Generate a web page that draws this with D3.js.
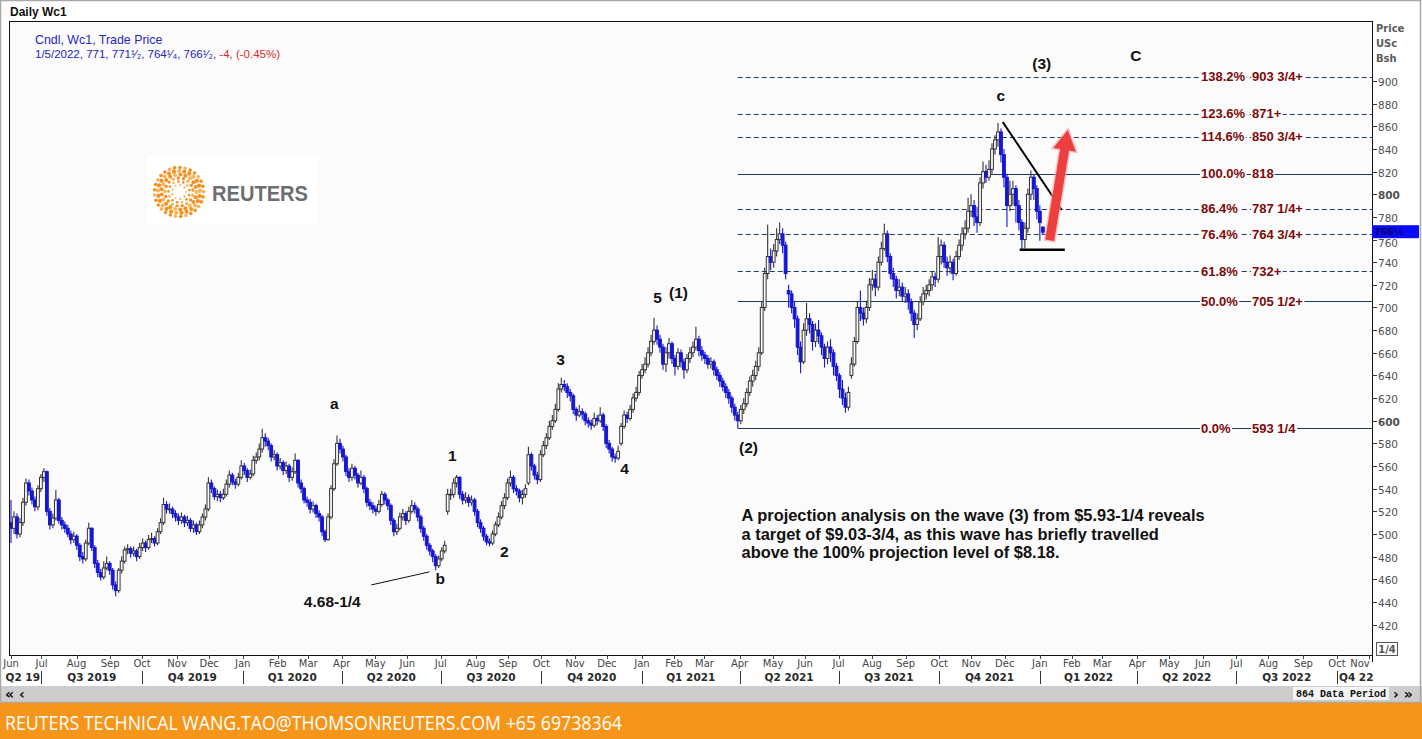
<!DOCTYPE html>
<html><head><meta charset="utf-8">
<script src="https://cdn.jsdelivr.net/npm/d3@7"></script>
<style>
html,body{margin:0;padding:0;background:#fff;}
svg{display:block;}
</style></head>
<body>
<svg id="c" width="1422" height="739"></svg>
<script>
// ---------------- DATA ----------------
// Candles: roughly every 2 trading days from 3 Jun 2019 to 5 Jan 2022 (USc/bushel)
const opens = [510,505,515,500,510,528,545,538,530,524,
540,550,555,520,508,514,530,512,508,505,
500,495,498,490,480,478,492,505,488,474,
466,462,470,474,468,455,450,468,476,486,
487,483,485,480,488,492,488,495,496,492,
502,510,526,522,522,518,515,512,515,510,
512,505,508,502,508,515,522,545,540,533,
535,532,535,544,552,546,544,550,560,556,
550,553,565,568,575,585,582,578,568,570,
560,563,556,560,550,555,565,545,540,530,
528,522,525,518,515,502,495,515,540,562,
580,575,568,555,550,558,552,545,550,540,
528,525,522,520,526,535,530,525,512,502,
505,515,518,512,520,525,522,515,505,498,
490,485,480,472,478,485,520,535,535,545,
550,535,530,532,528,530,520,510,505,498,
493,492,500,508,515,525,532,545,550,540,
538,532,535,545,570,560,552,548,570,578,
585,595,600,610,628,632,630,625,622,610,
605,608,606,600,598,596,602,600,605,595,
580,575,568,567,580,595,605,602,610,620,
625,640,645,650,660,670,680,672,665,650,
660,668,655,648,660,652,645,655,660,665,
672,662,658,655,650,652,645,640,635,630,
625,620,612,605,600,610,615,625,635,640,
648,660,700,730,745,740,750,760,765,755,
715,712,700,690,665,652,680,690,685,670,
680,675,665,655,665,660,648,640,628,620,
612,640,650,670,700,695,690,700,720,725,
718,740,752,765,745,730,725,715,718,710,
712,705,695,685,690,705,712,715,720,727,
725,745,755,740,735,740,730,745,755,765,
770,785,790,780,775,810,820,815,822,840,
848,855,835,815,790,800,805,790,775,760,
770,800,815,805,785,771];
const highs = [530,520,518,514,532,549,548,541,533,543,
553,558,556,523,518,539,532,515,511,508,
503,502,500,492,484,495,510,506,490,477,
469,476,480,476,470,458,470,480,489,491,
489,489,487,492,496,494,499,501,498,505,
514,532,529,527,524,521,518,519,517,516,
514,512,510,512,518,526,550,548,542,539,
538,540,548,556,554,549,554,565,563,558,
557,569,572,580,593,589,585,580,574,572,
567,565,564,562,559,571,566,548,542,533,
531,529,527,521,517,504,518,543,566,587,
584,578,570,558,562,560,554,556,552,542,
531,528,525,530,538,537,532,527,514,509,
519,522,520,524,530,528,524,517,507,500,
492,487,482,481,488,494,540,540,549,552,
551,538,537,535,534,532,522,513,507,500,
496,503,511,519,529,536,549,556,552,543,
540,539,544,577,572,562,555,574,582,589,
600,605,615,633,638,636,633,628,624,612,
614,611,608,603,601,607,605,612,607,597,
583,577,571,578,598,609,608,614,624,630,
644,650,656,665,676,691,684,676,668,665,
673,670,658,664,663,655,659,665,670,683,
675,666,661,658,656,654,648,643,638,633,
628,622,615,608,614,620,629,639,645,653,
665,705,735,773,752,756,770,775,770,758,
720,715,705,693,670,686,704,695,688,686,
689,678,668,670,672,663,651,642,636,625,
630,656,674,705,715,700,706,726,733,730,
745,758,774,768,748,735,728,725,722,718,
716,708,698,695,710,718,720,725,732,731,
762,760,758,745,746,743,750,760,771,777,
797,800,795,789,815,829,826,830,845,852,
863,858,840,818,812,812,808,795,778,775,
805,821,818,808,790,771.5];
const lows = [492,500,496,497,507,525,534,526,520,521,
537,546,516,504,505,512,509,504,501,497,
491,492,486,476,474,476,490,485,470,462,
459,460,468,464,451,445,448,465,474,482,
479,480,476,478,485,484,486,492,489,490,
500,508,518,518,514,511,508,509,506,507,
502,501,499,500,505,512,520,536,530,529,
528,530,533,541,543,540,542,548,552,546,
548,551,562,565,572,577,574,564,565,556,
557,552,553,546,547,553,541,536,527,524,
518,519,514,511,498,493,494,513,538,560,
571,564,551,546,547,548,541,543,536,524,
521,518,516,518,524,526,521,508,498,499,
503,512,508,510,518,518,511,501,494,486,
481,475,468,470,476,483,517,530,532,541,
531,526,527,524,525,516,506,501,494,490,
489,490,498,506,513,522,530,542,536,534,
528,526,532,543,556,548,544,546,568,575,
583,592,598,608,625,626,620,617,606,600,
603,601,596,594,592,594,596,598,591,576,
571,564,563,565,578,593,598,600,607,617,
622,637,642,647,657,667,667,660,645,643,
655,650,640,645,647,637,642,651,656,662,
657,653,650,646,646,640,636,630,626,620,
615,607,600,593.25,597,606,612,622,630,636,
644,658,697,725,733,735,745,756,748,725,
700,695,682,658,642,650,675,677,662,665,
668,658,647,650,652,640,635,620,614,607,
609,637,648,668,688,684,686,697,715,710,
715,737,750,740,725,718,708,710,705,704,
698,688,673,680,688,702,707,710,715,718,
722,738,735,728,730,724,728,742,750,760,
766,780,772,766,772,805,810,812,818,835,
842,828,806,771,785,790,775,768,751,752,
766,795,795,778,759,764.25];
const closes = [505,515,500,510,528,545,538,530,524,540,
550,555,520,508,514,530,512,508,505,500,
495,498,490,480,478,492,505,488,474,466,
462,470,474,468,455,450,468,476,486,487,
483,485,480,488,492,488,495,496,492,502,
510,526,522,522,518,515,512,515,510,512,
505,508,502,508,515,522,545,540,533,535,
532,535,544,552,546,544,550,560,556,550,
553,565,568,575,585,582,578,568,570,560,
563,556,560,550,555,565,545,540,530,528,
522,525,518,515,502,495,515,540,562,580,
575,568,555,550,558,552,545,550,540,528,
525,522,520,526,535,530,525,512,502,505,
515,518,512,520,525,522,515,505,498,490,
485,480,472,478,485,490,535,535,545,550,
535,530,532,528,530,520,510,505,498,493,
492,500,508,515,525,532,545,550,540,538,
532,535,540,570,560,552,548,570,578,585,
595,600,610,628,632,630,625,622,610,605,
608,606,600,598,596,602,600,605,595,580,
575,568,567,573,595,605,602,610,620,625,
640,645,650,660,670,680,672,665,650,660,
668,655,648,660,652,645,655,660,665,672,
662,658,655,650,652,645,640,635,630,625,
620,612,605,600,610,615,625,635,640,648,
660,700,730,745,740,750,760,765,755,730,
712,700,690,665,652,680,690,685,670,680,
675,665,655,665,660,648,640,628,620,612,
625,650,670,700,695,690,700,720,725,718,
740,752,765,745,730,725,715,718,710,712,
705,695,685,690,705,712,715,720,727,725,
745,755,740,735,740,730,745,755,765,770,
785,790,780,775,810,820,815,822,840,848,
855,835,815,790,800,805,790,775,760,770,
800,815,805,785,775,766.5];

const firstDate = [2019, 5, 3];   // 3 Jun 2019
const lastDate  = [2022, 0, 5];   // 5 Jan 2022
const axisEnd   = [2022, 10, 1];  // 1 Nov 2022

const priceTicks = [420,440,460,480,500,520,540,560,580,600,620,640,660,680,700,720,740,760,780,800,820,840,860,880,900];
const boldTicks = [600, 800];
const monthNames = ['Jan','Feb','Mar','Apr','May','Jun','Jul','Aug','Sep','Oct','Nov','Dec'];
const quarterLabels = ['Q2 19','Q3 2019','Q4 2019','Q1 2020','Q2 2020','Q3 2020','Q4 2020','Q1 2021','Q2 2021','Q3 2021','Q4 2021','Q1 2022','Q2 2022','Q3 2022','Q4 22'];

const fibPct   = ['138.2%','123.6%','114.6%','100.0%','86.4%','76.4%','61.8%','50.0%','0.0%'];
const fibPrice = [903.75, 871, 850.75, 818, 787.25, 764.75, 732, 705.5, 593.25];
const fibText  = ['903 3/4+','871+','850 3/4+','818','787 1/4+','764 3/4+','732+','705 1/2+','593 1/4'];
const fibSolid = [false,false,false,true,false,false,false,true,true];

// wave labels: text, trading-day position, price position
const waveText  = ['a','b','1','2','3','4','5','(1)','(2)','c','(3)','C','4.68-1/4'];
const waveT     = [212.1,281.7,289.6,323.7,360.5,402.5,424.2,438.0,483.9,649.4,676.3,738.0,210.8];
const waveP     = [615.6,461.1,569.7,484.9,654.5,558.2,708.4,712.8,576.8,886.8,915.9,922.1,440.8];

const lastPrice = 766.5;
const noteLines = ['A projection analysis on the wave (3) from $5.93-1/4 reveals',
                   'a target of $9.03-3/4, as this wave has briefly travelled',
                   'above the 100% projection level of $8.18.'];

// ---------------- SCALES ----------------
const T0 = Date.UTC(firstDate[0], firstDate[1], firstDate[2]);
function wd(y, m, d) {
  const end = Date.UTC(y, m, d); let n = 0;
  for (let t = T0; t < end; t += 864e5) { const g = new Date(t).getUTCDay(); if (g > 0 && g < 6) n++; }
  return n;
}
const tLast = wd(...lastDate);
const tEnd = wd(...axisEnd);

const P = {l: 9, t: 21, r: 1372, b: 655};
const x = d3.scaleLinear().domain([0, tEnd]).range([11, 1369]);
const y = d3.scaleLinear().domain([394, 953]).range([654, 21]);

const svg = d3.select('#c');
const W = 1422, H = 739;
const BLUE = '#1616d4', UPC = '#333333', PBG = '#fbfbfb';
const SANS = "'Liberation Sans', Arial, sans-serif";
const UI = "'DejaVu Sans', Tahoma, sans-serif";

svg.append('rect').attr('width', W).attr('height', H).attr('fill', '#ffffff');
svg.append('rect').attr('x', P.l).attr('y', P.t).attr('width', P.r - P.l).attr('height', P.b - P.t).attr('fill', PBG);

// title + legend
svg.append('text').attr('x', 10).attr('y', 16).attr('font-family', SANS).attr('font-weight', 'bold')
  .attr('font-size', 12).attr('fill', '#111').text('Daily Wc1');
svg.append('text').attr('x', 35).attr('y', 44).attr('font-family', SANS).attr('font-size', 12.4)
  .attr('fill', '#2626c0').text('Cndl, Wc1, Trade Price');
const lg2 = svg.append('text').attr('x', 35).attr('y', 58).attr('font-family', SANS).attr('font-size', 11.5);
lg2.append('tspan').attr('fill', '#2626c0').text('1/5/2022, 771, 771\u00B9\u2044\u2082, 764\u00B9\u2044\u2084, 766\u00B9\u2044\u2082, ');
lg2.append('tspan').attr('fill', '#e02828').text('-4, (-0.45%)');

// Reuters logo
const logo = svg.append('g');
logo.append('rect').attr('x', 147).attr('y', 156).attr('width', 172).attr('height', 68).attr('fill', '#ffffff');
const rings = [{r: 7, n: 9, s: 0.9}, {r: 10.5, n: 13, s: 1.3}, {r: 14, n: 17, s: 1.7}, {r: 17.5, n: 21, s: 2.0}, {r: 21, n: 25, s: 2.1}, {r: 24.5, n: 29, s: 1.8}];
rings.forEach((rg, ri) => {
  for (let i = 0; i < rg.n; i++) {
    const a = (i / rg.n) * Math.PI * 2 + ri * 0.3;
    logo.append('circle').attr('cx', 179 + rg.r * Math.cos(a)).attr('cy', 192 + rg.r * Math.sin(a))
      .attr('r', rg.s).attr('fill', (i + ri) % 3 === 0 ? '#fbb25a' : '#f5901e');
  }
});
logo.append('text').attr('x', 212).attr('y', 201).attr('font-family', SANS).attr('font-weight', 'bold')
  .attr('font-size', 22).attr('fill', '#6e6e70').attr('textLength', 96).attr('lengthAdjust', 'spacingAndGlyphs').text('REUTERS');

// ---------------- FIB LINES ----------------
const fibStartT = 243 * tLast / (closes.length - 1);
const fg = svg.append('g');
fibPrice.forEach((v, i) => {
  fg.append('line').attr('x1', x(fibStartT)).attr('x2', P.r).attr('y1', Math.round(y(v)) + 0.5).attr('y2', Math.round(y(v)) + 0.5)
    .attr('stroke', '#1f3a6a').attr('stroke-width', 1).attr('stroke-dasharray', fibSolid[i] ? null : '5,3');
});

// ---------------- CANDLES ----------------
const candles = closes.map((c, k) => ({t: k * tLast / (closes.length - 1), o: opens[k], h: highs[k], l: lows[k], c}));
const bw = 2.8;
const cg = svg.append('g').selectAll('g').data(candles).join('g');
cg.append('line')
  .attr('x1', d => x(d.t)).attr('x2', d => x(d.t))
  .attr('y1', d => y(Math.max(d.h, d.o, d.c))).attr('y2', d => y(Math.min(d.l, d.o, d.c)))
  .attr('stroke', d => d.c < d.o ? BLUE : UPC).attr('stroke-width', 1.1);
cg.append('rect')
  .attr('x', d => x(d.t) - bw / 2).attr('width', bw)
  .attr('y', d => y(Math.max(d.o, d.c))).attr('height', d => Math.max(0.8, Math.abs(y(d.o) - y(d.c))))
  .attr('fill', d => d.c < d.o ? BLUE : PBG).attr('stroke', d => d.c < d.o ? BLUE : UPC).attr('stroke-width', 1);

// fib labels (with background so the line does not cross the text)
const lab = svg.append('g').attr('font-family', SANS).attr('font-weight', 'bold').attr('font-size', 13).attr('fill', '#7d0a0a');
function bgText(g, tx, ty, str) {
  const t = g.append('text').attr('x', tx).attr('y', ty).attr('dominant-baseline', 'central').text(str);
  const b = t.node().getBBox();
  g.insert('rect', () => t.node()).attr('x', b.x - 1).attr('y', b.y + 1).attr('width', b.width + 2).attr('height', b.height - 2).attr('fill', PBG);
}
fibPrice.forEach((v, i) => {
  bgText(lab, 1201, y(v), fibPct[i]);
  bgText(lab, 1252, y(v), fibText[i]);
});

// ---------------- ANNOTATIONS ----------------
const ann = svg.append('g');
// 4.68 pointer line
ann.append('line').attr('x1', x(236.4)).attr('y1', y(455.0)).attr('x2', x(274.5)).attr('y2', y(466.5)).attr('stroke', '#111').attr('stroke-width', 1);
// triangle: falling resistance + support
ann.append('line').attr('x1', x(650.7)).attr('y1', y(863.8)).attr('x2', x(689.4)).attr('y2', y(786.1)).attr('stroke', '#000').attr('stroke-width', 2);
ann.append('line').attr('x1', x(661.8)).attr('y1', y(751)).attr('x2', x(691.4)).attr('y2', y(751)).attr('stroke', '#000').attr('stroke-width', 2.5);
// red arrow
(function () {
  const sx = x(681.5), sy = y(759.4), ex = x(693.4), ey = y(856.7);
  const dx = ex - sx, dy = ey - sy, L = Math.hypot(dx, dy), ux = dx / L, uy = dy / L, nx = -uy, ny = ux;
  const sw = 4.5, hw = 11.5, hl = 20;
  const bx = ex - ux * hl, by = ey - uy * hl;
  const pts = [[sx + nx * sw, sy + ny * sw], [bx + nx * sw, by + ny * sw], [bx + nx * hw, by + ny * hw], [ex, ey],
    [bx - nx * hw, by - ny * hw], [bx - nx * sw, by - ny * sw], [sx - nx * sw, sy - ny * sw]];
  ann.append('polygon').attr('points', pts.map(p => p.join(',')).join(' ')).attr('fill', '#f6a0a0').attr('stroke', '#f6a0a0').attr('stroke-width', 3).attr('opacity', 0.6);
  ann.append('polygon').attr('points', pts.map(p => p.join(',')).join(' ')).attr('fill', '#ee3f3f');
})();
// wave labels
waveText.forEach((s, i) => {
  ann.append('text').attr('x', x(waveT[i])).attr('y', y(waveP[i])).attr('text-anchor', 'middle').attr('dominant-baseline', 'central')
    .attr('font-family', SANS).attr('font-weight', 'bold').attr('font-size', 15.5).attr('fill', '#111').text(s);
});
// note
noteLines.forEach((s, i) => {
  ann.append('text').attr('x', x(479.3)).attr('y', y(516.7) + i * 18.5).attr('dominant-baseline', 'central')
    .attr('font-family', SANS).attr('font-weight', 'bold').attr('font-size', 16.4).attr('fill', '#111').text(s);
});

// ---------------- FRAME & RIGHT AXIS ----------------
svg.append('rect').attr('x', P.l + 0.5).attr('y', P.t + 0.5).attr('width', P.r - P.l).attr('height', P.b - P.t).attr('fill', 'none').attr('stroke', '#111').attr('stroke-width', 1);
const ax = svg.append('g').attr('font-family', UI).attr('font-size', 10.5).attr('fill', '#505050');
priceTicks.forEach(v => {
  const yy = Math.round(y(v)) + 0.5;
  ax.append('line').attr('x1', P.r).attr('x2', P.r + 5).attr('y1', yy).attr('y2', yy).attr('stroke', '#333');
  ax.append('text').attr('x', P.r + 6).attr('y', yy + (Math.abs(v - lastPrice) < 10 ? 2 : 0)).attr('dominant-baseline', 'central')
    .attr('font-weight', boldTicks.includes(v) ? 'bold' : 'normal').text(v);
});
['Price', 'USc', 'Bsh'].forEach((s, i) => {
  ax.append('text').attr('x', 1376).attr('y', 32 + i * 15).attr('font-weight', 'bold').attr('font-size', 10).attr('fill', '#5a5a5a').text(s);
});
// last price marker
ax.append('rect').attr('x', P.r).attr('y', y(lastPrice) - 7).attr('width', 47).attr('height', 13).attr('fill', '#0a0aff');
ax.append('text').attr('x', P.r + 2).attr('y', y(lastPrice) - 1).attr('dominant-baseline', 'central').attr('font-weight', 'bold')
  .attr('font-size', 9.5).attr('fill', '#00005a').text('766\u00BD');
// 1/4 box
ax.append('rect').attr('x', 1376.5).attr('y', 642.5).attr('width', 21).attr('height', 13).attr('fill', '#fff').attr('stroke', '#555');
ax.append('text').attr('x', 1387).attr('y', 649.5).attr('text-anchor', 'middle').attr('dominant-baseline', 'central').attr('font-weight', 'bold')
  .attr('font-size', 10).attr('fill', '#555').text('1/4');
svg.append('line').attr('x1', P.r + 0.5).attr('x2', P.r + 0.5).attr('y1', P.b).attr('y2', 662).attr('stroke', '#111');

// ---------------- BOTTOM AXIS ----------------
const months = [];
for (let yy = firstDate[0], m = firstDate[1]; yy < axisEnd[0] || (yy === axisEnd[0] && m <= axisEnd[1]);) {
  months.push({y: yy, m, t: wd(yy, m, 1)});
  m++; if (m > 11) { m = 0; yy++; }
}
const bx = svg.append('g').attr('font-family', UI).attr('font-size', 10).attr('fill', '#444');
months.forEach(mo => {
  const xx = Math.round(x(mo.t)) + 0.5;
  bx.append('line').attr('x1', xx).attr('x2', xx).attr('y1', P.b).attr('y2', P.b + 4).attr('stroke', '#444');
  bx.append('text').attr('x', Math.min(x(mo.t), 1360)).attr('y', 667).attr('text-anchor', 'middle').text(monthNames[mo.m]);
});
const seps = months.filter(mo => mo.m % 3 === 0).map(mo => x(mo.t));
const qg = svg.append('g').attr('font-family', UI).attr('font-size', 10.5).attr('font-weight', 'bold').attr('fill', '#2a2a2a');
seps.forEach(sx => qg.append('line').attr('x1', Math.round(sx) + 0.5).attr('x2', Math.round(sx) + 0.5).attr('y1', 671).attr('y2', 684).attr('stroke', '#333'));
quarterLabels.forEach((s, i) => {
  if (i === 0) qg.append('text').attr('x', seps[0] - 1.5).attr('y', 681).attr('text-anchor', 'end').text(s);
  else if (i === quarterLabels.length - 1) qg.append('text').attr('x', seps[i - 1] + 2).attr('y', 681).text(s);
  else qg.append('text').attr('x', (seps[i - 1] + seps[i]) / 2).attr('y', 681).attr('text-anchor', 'middle').text(s);
});

// scroll band
svg.append('rect').attr('x', 0).attr('y', 686).attr('width', W).attr('height', 17).attr('fill', '#cdcdcd');
svg.append('text').attr('x', 5).attr('y', 699).attr('font-family', UI).attr('font-weight', 'bold').attr('font-size', 14).attr('fill', '#111').text('\u00AB \u2039');
svg.append('rect').attr('x', 1293).attr('y', 687).attr('width', 96).attr('height', 13).attr('fill', '#f4f4f4');
svg.append('text').attr('x', 1296).attr('y', 697).attr('font-family', "'Liberation Mono', 'DejaVu Sans Mono', monospace").attr('font-weight', 'bold')
  .attr('font-size', 10).attr('fill', '#111').text('864 Data Period');
svg.append('text').attr('x', 1393).attr('y', 699).attr('font-family', UI).attr('font-weight', 'bold').attr('font-size', 14).attr('fill', '#111').text('\u203A \u00BB');

// outer frame
svg.append('rect').attr('x', 0.5).attr('y', 0.5).attr('width', W - 2).attr('height', 702).attr('fill', 'none').attr('stroke', '#a8a8a8').attr('stroke-width', 1.5);

// footer
svg.append('rect').attr('x', 0).attr('y', 703).attr('width', W).attr('height', 36).attr('fill', '#f5961b');
svg.append('text').attr('x', 5).attr('y', 730).attr('font-family', "'Liberation Sans Narrow', 'Open Sans', sans-serif").attr('font-size', 20)
  .attr('fill', '#ffffff').attr('textLength', 617).attr('lengthAdjust', 'spacingAndGlyphs')
  .text('REUTERS TECHNICAL  WANG.TAO@THOMSONREUTERS.COM  +65 69738364');
</script>
</body></html>
